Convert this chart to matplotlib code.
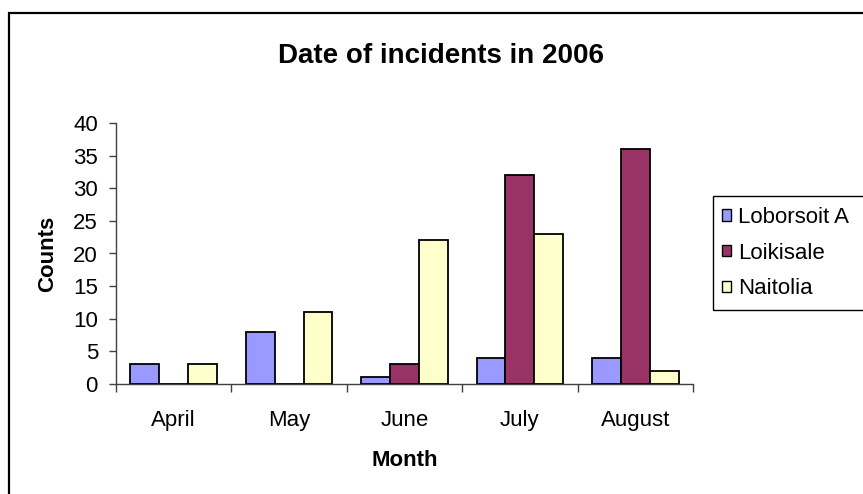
import numpy as np
import matplotlib
matplotlib.use("Agg")
import matplotlib.pyplot as plt
from matplotlib.patches import Rectangle, Patch

plt.rcParams['font.family'] = ['Liberation Sans', 'DejaVu Sans']

months = ["April", "May", "June", "July", "August"]
series_names = ["Loborsoit A", "Loikisale", "Naitolia"]
loborsoit_a = [3, 8, 1, 4, 4]
loikisale = [0, 0, 3, 32, 36]
naitolia = [3, 11, 22, 23, 2]
colors = ["#9999FF", "#993366", "#FFFFCC"]
y_ticks = [0, 5, 10, 15, 20, 25, 30, 35, 40]

W, H = 863, 494
fig = plt.figure(figsize=(W / 100, H / 100), dpi=100)
ax = fig.add_axes([116 / W, 1 - 384 / H, (693 - 116) / W, (384 - 123) / H])

x = np.arange(len(months))
bw = 0.25
for i, (vals, c) in enumerate(zip([loborsoit_a, loikisale, naitolia], colors)):
    ax.bar(x + (i - 1) * bw, vals, width=bw, color=c, edgecolor="black",
           linewidth=1.3, zorder=3)

ax.set_xlim(-0.5, len(months) - 0.5)
ax.set_ylim(0, 40)
ax.set_yticks(y_ticks)
ax.set_xticks(x)
ax.set_xticklabels(months)
ax.set_xticks(np.arange(-0.5, len(months)), minor=True)
ax.tick_params(axis="x", which="major", length=0, pad=18.5, labelsize=16)
ax.tick_params(axis="x", which="minor", length=6, width=1, color="#404040")
ax.tick_params(axis="y", length=5, width=1, color="#404040", pad=8, labelsize=16)

for s in ["top", "right"]:
    ax.spines[s].set_visible(False)
for s in ["left", "bottom"]:
    ax.spines[s].set_color("#404040")
    ax.spines[s].set_linewidth(1)

ax.set_xlabel("Month", fontsize=16, fontweight="bold", va="center")
ax.xaxis.set_label_coords(0.5, (384 - 460) / (384 - 123))
ax.set_ylabel("Counts", fontsize=16, fontweight="bold", va="center")
ax.yaxis.set_label_coords((48 - 116) / (693 - 116), 0.5)

fig.text(441 / W, 1 - 63 / H, "Date of incidents in 2006", fontsize=20,
         fontweight="bold", ha="center", va="baseline")

# chart area border
fig.patches.append(Rectangle((9 / W, -0.1), 1.2, 1 - 13 / H + 0.1,
                             transform=fig.transFigure, fill=False,
                             edgecolor="black", linewidth=1.6))

# legend frame
fig.patches.append(Rectangle((713 / W, 1 - 310 / H), 0.3, (310 - 196) / H,
                             transform=fig.transFigure, fill=False,
                             edgecolor="black", linewidth=1))
handles = [Patch(facecolor=c, edgecolor="black", linewidth=1) for c in colors]
fig.legend(handles, series_names, loc="upper left",
           bbox_to_anchor=(722 / W, 1 - 207 / H), frameon=False, fontsize=16,
           handlelength=0.42, handleheight=0.42, handletextpad=0.3,
           labelspacing=0.66, borderaxespad=0, borderpad=0)

fig.savefig("out.png", dpi=100)
